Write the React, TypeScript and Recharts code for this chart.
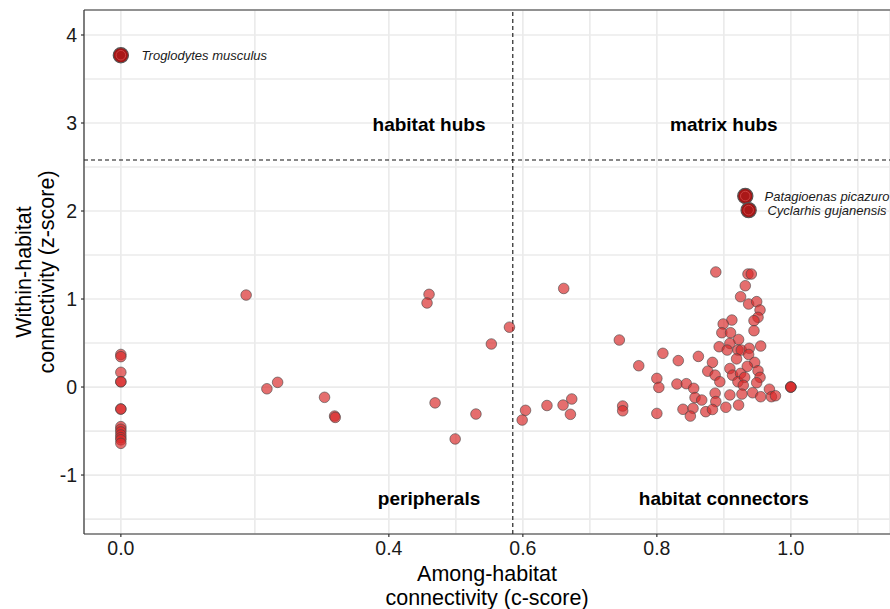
import {
  CartesianGrid,
  ReferenceLine,
  Scatter,
  ScatterChart,
  XAxis,
  YAxis,
} from "recharts";

const FONT = '"Liberation Sans", Arial, Helvetica, sans-serif';

// axis limits, grid positions and labelled ticks
const X_MIN = -0.055;
const X_MAX = 1.148;
const Y_MIN = -1.67;
const Y_MAX = 4.284;
const xGrid = [0, 0.2, 0.4, 0.5, 0.6, 0.7, 0.8, 0.9, 1.0, 1.1];
const xLabelled = [0, 0.4, 0.6, 0.8, 1.0];
const yGrid = [-1.5, -1, -0.5, 0, 0.5, 1, 1.5, 2, 2.5, 3, 3.5, 4];
const yLabelled = [-1, 0, 1, 2, 3, 4];

// role thresholds
const C_CUT = 0.585;
const Z_CUT = 2.58;

// species with c-score = 0
const zeroPts: [number, number][] = [
  [0, 0.37], [0, 0.345], [0, 0.167], [0, 0.06], [0, 0.06],
  [0, -0.25], [0, -0.25], [0, -0.45], [0, -0.48], [0, -0.51],
  [0, -0.545], [0, -0.575], [0, -0.6], [0, -0.64],
];

// scattered species left of the main cluster
const spreadPts: [number, number][] = [
  [0.187, 1.045], [0.218, -0.02], [0.234, 0.053], [0.304, -0.117],
  [0.319, -0.33], [0.32, -0.345], [0.46, 1.053], [0.457, 0.955],
  [0.469, -0.18], [0.53, -0.307], [0.499, -0.59], [0.553, 0.489],
  [0.58, 0.68], [0.661, 1.12], [0.604, -0.265], [0.599, -0.375],
  [0.636, -0.21], [0.66, -0.205], [0.673, -0.136], [0.671, -0.31],
  [0.744, 0.534], [0.773, 0.242], [0.809, 0.383], [0.832, 0.3],
  [0.862, 0.348], [0.8, 0.098], [0.803, -0.004], [0.83, 0.034],
  [0.844, 0.038], [0.855, -0.015], [0.857, -0.12], [0.749, -0.216],
  [0.749, -0.27], [0.8, -0.3], [0.839, -0.253], [0.854, -0.242],
  [0.85, -0.33],
];

// dense cluster near c = 1
const clusterPts: [number, number][] = [
  [0.888, 1.307], [0.936, 1.284], [0.941, 1.284], [0.932, 1.151],
  [0.925, 1.026], [0.937, 0.943], [0.949, 0.97], [0.954, 0.875],
  [0.951, 0.792], [0.945, 0.754], [0.945, 0.64], [0.912, 0.761],
  [0.899, 0.716], [0.897, 0.617], [0.91, 0.617], [0.922, 0.54],
  [0.909, 0.496], [0.893, 0.458], [0.905, 0.42], [0.921, 0.42],
  [0.926, 0.42], [0.938, 0.44], [0.955, 0.466], [0.883, 0.28],
  [0.919, 0.32], [0.937, 0.37], [0.946, 0.28], [0.876, 0.18],
  [0.887, 0.135], [0.894, 0.06], [0.909, 0.21], [0.913, 0.135],
  [0.925, 0.155], [0.935, 0.235], [0.951, 0.185], [0.954, 0.11],
  [0.921, 0.06], [0.931, 0.11], [0.929, 0.02], [0.949, 0.049],
  [0.968, -0.025], [0.927, -0.08], [0.943, -0.065], [0.955, -0.11],
  [0.971, -0.11], [0.977, -0.099], [0.887, -0.07], [0.909, -0.09],
  [0.867, -0.148], [0.888, -0.165], [0.903, -0.23], [0.922, -0.205],
  [0.873, -0.28], [0.883, -0.255], [1.0, 0], [1.0, 0], [1.0, 0],
];

// highlighted species and their labels
const keySpecies = ["Troglodytes musculus", "Patagioenas picazuro", "Cyclarhis gujanensis"];
const keyC = [0, 0.932, 0.937];
const keyZ = [3.77, 2.17, 2.01];
const keyLabelC = [0.031, 1.054, 1.054];
const keyLabelAnchor = ["start", "middle", "middle"];

// quadrant names
const roleNames = ["habitat hubs", "matrix hubs", "peripherals", "habitat connectors"];
const roleC = [0.46, 0.9, 0.46, 0.9];
const roleZ = [2.99, 2.99, -1.26, -1.26];

const toRows = (pts: [number, number][]) => pts.map(([x, y]) => ({ x, y }));
const allPts = toRows([...zeroPts, ...spreadPts, ...clusterPts]);
const keyRows = keySpecies.map((name, i) => ({ x: keyC[i], y: keyZ[i], name }));
const keyLabelRows = keySpecies.map((name, i) => ({
  x: keyLabelC[i],
  y: keyZ[i],
  name,
  anchor: keyLabelAnchor[i],
}));
const roleRows = roleNames.map((name, i) => ({ x: roleC[i], y: roleZ[i], name }));

const near = (list: number[], v: number) => list.some((t) => Math.abs(t - v) < 1e-9);

function XTick(props: any) {
  const { x, y, payload } = props;
  if (!near(xLabelled, payload.value)) return <g />;
  return (
    <g>
      <line x1={x} x2={x} y1={y - 7} y2={y - 4} stroke="#333" strokeWidth={1.2} />
      <text x={x} y={y} dy="0.71em" textAnchor="middle" fontFamily={FONT} fontSize={19.5} fill="#1a1a1a">
        {payload.value.toFixed(1)}
      </text>
    </g>
  );
}

function YTick(props: any) {
  const { x, y, payload } = props;
  if (!near(yLabelled, payload.value)) return <g />;
  return (
    <g>
      <line x1={x + 4} x2={x + 7} y1={y} y2={y} stroke="#333" strokeWidth={1.2} />
      <text x={x} y={y} dy="0.355em" textAnchor="end" fontFamily={FONT} fontSize={19.5} fill="#1a1a1a">
        {String(payload.value)}
      </text>
    </g>
  );
}

const dot = (p: any) => (
  <circle
    cx={p.cx}
    cy={p.cy}
    r={5.3}
    fill="rgb(216,42,42)"
    fillOpacity={0.68}
    stroke="#444"
    strokeOpacity={0.6}
    strokeWidth={1}
  />
);

const keyDot = (p: any) => (
  <g>
    <circle cx={p.cx} cy={p.cy} r={7.6} fill="#a01515" stroke="#555" strokeWidth={1.2} />
    <circle cx={p.cx} cy={p.cy} r={4.8} fill="#aa1818" stroke="#d04545" strokeWidth={0.9} />
  </g>
);

const keyLabel = (p: any) => {
  const d = p.payload ?? p;
  return (
    <text
      x={p.cx}
      y={p.cy}
      dy="0.355em"
      textAnchor={d.anchor}
      fontFamily={FONT}
      fontStyle="italic"
      fontSize={13}
      fill="#1a1a1a"
    >
      {d.name}
    </text>
  );
};

const roleLabel = (p: any) => {
  const d = p.payload ?? p;
  return (
    <text
      x={p.cx}
      y={p.cy}
      dy="0.355em"
      textAnchor="middle"
      fontFamily={FONT}
      fontWeight="bold"
      fontSize={19}
      fill="#000"
    >
      {d.name}
    </text>
  );
};

export default function App() {
  return (
    <div style={{ position: "absolute", left: 0, top: 0, width: 890, height: 609, background: "#fff" }}>
      <ScatterChart width={890} height={609} margin={{ top: 10, right: 0, bottom: 0, left: 0 }}>
        <CartesianGrid stroke="#ebebeb" strokeWidth={1.7} />
        <XAxis
          type="number"
          dataKey="x"
          domain={[X_MIN, X_MAX]}
          ticks={xGrid}
          interval={0}
          allowDataOverflow
          height={75}
          tickSize={3}
          tickMargin={4}
          tickLine={false}
          tick={XTick}
          axisLine={{ stroke: "#333", strokeWidth: 1.2 }}
        />
        <YAxis
          type="number"
          dataKey="y"
          domain={[Y_MIN, Y_MAX]}
          ticks={yGrid}
          interval={0}
          allowDataOverflow
          width={84}
          tickSize={3}
          tickMargin={4}
          tickLine={false}
          tick={YTick}
          axisLine={{ stroke: "#333", strokeWidth: 1.2 }}
        />
        <ReferenceLine y={Y_MAX} stroke="#333" strokeWidth={1.2} />
        <ReferenceLine x={C_CUT} stroke="#111" strokeDasharray="4 3" strokeWidth={1.1} />
        <ReferenceLine y={Z_CUT} stroke="#111" strokeDasharray="4 3" strokeWidth={1.1} />
        <Scatter data={allPts} shape={dot} isAnimationActive={false} />
        <Scatter data={keyRows} shape={keyDot} isAnimationActive={false} />
        <Scatter data={keyLabelRows} shape={keyLabel} isAnimationActive={false} />
        <Scatter data={roleRows} shape={roleLabel} isAnimationActive={false} />
      </ScatterChart>
      <svg
        width={890}
        height={609}
        style={{ position: "absolute", left: 0, top: 0, pointerEvents: "none" }}
        fontFamily={FONT}
        fontSize={21.5}
        fill="#000"
      >
        <text x={487} y={581} textAnchor="middle">Among-habitat</text>
        <text x={487} y={605} textAnchor="middle">connectivity (c-score)</text>
        <text transform="translate(31,272) rotate(-90)" textAnchor="middle">Within-habitat</text>
        <text transform="translate(54,272) rotate(-90)" textAnchor="middle">connectivity (z-score)</text>
      </svg>
    </div>
  );
}
